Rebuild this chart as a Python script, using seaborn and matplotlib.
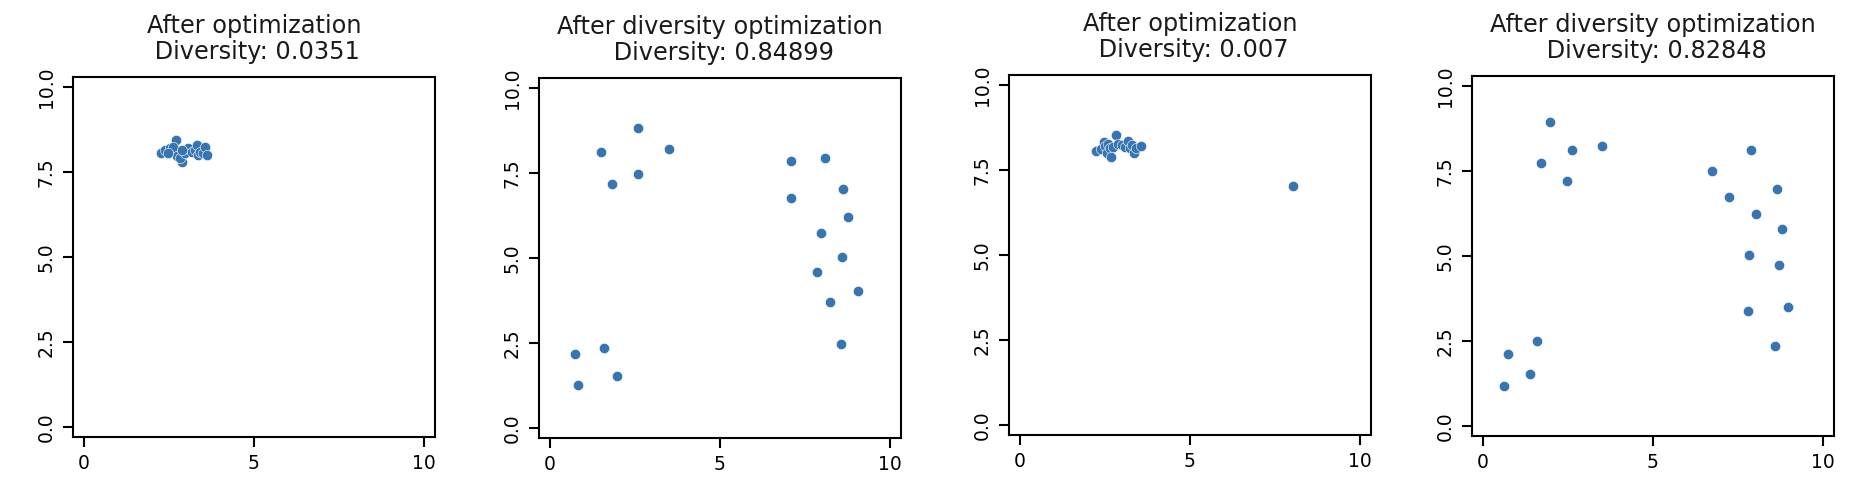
import numpy as np
import pandas as pd
import matplotlib
matplotlib.use('Agg')
import matplotlib.pyplot as plt
import seaborn as sns

# Panel titles
titles = [
    'After optimization\n Diversity: 0.0351',
    'After diversity optimization\n Diversity: 0.84899',
    'After optimization\n Diversity: 0.007',
    'After diversity optimization\n Diversity: 0.82848',
]

# Panel 1: after optimization (clustered)
x1 = [2.71, 2.26, 2.38, 2.53, 2.63, 2.73, 2.90, 2.82, 2.97, 3.07,
      3.17, 3.26, 3.33, 3.36, 3.41, 3.51, 3.56, 3.63, 2.48, 2.90]
y1 = [8.45, 8.06, 8.15, 8.20, 8.25, 7.96, 7.79, 7.91, 8.06, 8.20,
      8.10, 8.15, 8.30, 8.01, 8.10, 8.07, 8.25, 8.01, 8.06, 8.15]

# Panel 2: after diversity optimization
x2 = [1.50, 2.60, 3.50, 1.84, 2.60, 0.74, 0.83, 1.59, 1.97, 7.08,
      8.09, 7.08, 8.61, 8.76, 7.98, 8.60, 7.85, 9.07, 8.24, 8.55]
y2 = [8.12, 8.83, 8.20, 7.17, 7.48, 2.17, 1.25, 2.35, 1.52, 7.86,
      7.93, 6.77, 7.03, 6.20, 5.75, 5.04, 4.59, 4.02, 3.70, 2.48]

# Panel 3: after optimization (cluster + one outlier)
x3 = [2.25, 2.40, 2.48, 2.50, 2.55, 2.60, 2.65, 2.68, 2.75, 2.82,
      2.89, 2.99, 3.09, 3.19, 3.24, 3.30, 3.36, 3.43, 3.55, 8.04]
y3 = [8.07, 8.11, 8.33, 8.21, 7.99, 8.26, 8.14, 7.89, 8.19, 8.53,
      8.28, 8.24, 8.19, 8.36, 8.14, 8.24, 8.01, 8.14, 8.22, 7.04]

# Panel 4: after diversity optimization
x4 = [1.97, 1.72, 2.62, 2.47, 3.51, 0.75, 0.62, 1.58, 1.38, 6.74,
      7.89, 7.25, 8.66, 8.03, 8.78, 7.83, 8.71, 8.98, 7.78, 8.59]
y4 = [8.95, 7.74, 8.12, 7.22, 8.25, 2.12, 1.16, 2.50, 1.53, 7.49,
      8.12, 6.73, 6.98, 6.25, 5.80, 5.04, 4.73, 3.50, 3.38, 2.35]

xticks = [0, 5, 10]
yticks = [0.0, 2.5, 5.0, 7.5, 10.0]

panels = [(x1, y1), (x2, y2), (x3, y3), (x4, y4)]

# axes positions (left, bottom)
positions = [
    (0.0393, 0.1154),
    (0.2904, 0.1134),
    (0.5436, 0.1194),
    (0.7931, 0.1174),
]
width, height = 0.1950, 0.7287

sns.set_style('ticks')
plt.rcParams['font.family'] = ['DejaVu Sans']

fig = plt.figure(figsize=(18.56, 4.94), dpi=100)

for (px, py), title, (left, bottom) in zip(panels, titles, positions):
    ax = fig.add_axes([left, bottom, width, height])
    df = pd.DataFrame({'x': px, 'y': py})
    sns.scatterplot(data=df, x='x', y='y', ax=ax, color='#3774b2',
                    s=55, edgecolor='white', linewidth=0.4)
    ax.set_xlim(-0.32, 10.32)
    ax.set_ylim(-0.3, 10.3)
    ax.set_xticks(xticks)
    ax.set_yticks(yticks)
    ax.set_yticklabels([f'{t:.1f}' for t in yticks], rotation=90, va='center')
    ax.set_xlabel('')
    ax.set_ylabel('')
    ax.tick_params(axis='both', labelsize=13.5, length=7.5, width=1.5,
                   colors='black', pad=5)
    for sp in ax.spines.values():
        sp.set_linewidth(1.5)
        sp.set_color('black')
    ax.set_title(title, fontsize=17.3, pad=13, color='#1a1a1a',
                 linespacing=1.1)

fig.savefig('out.png', dpi=100, facecolor='white')
